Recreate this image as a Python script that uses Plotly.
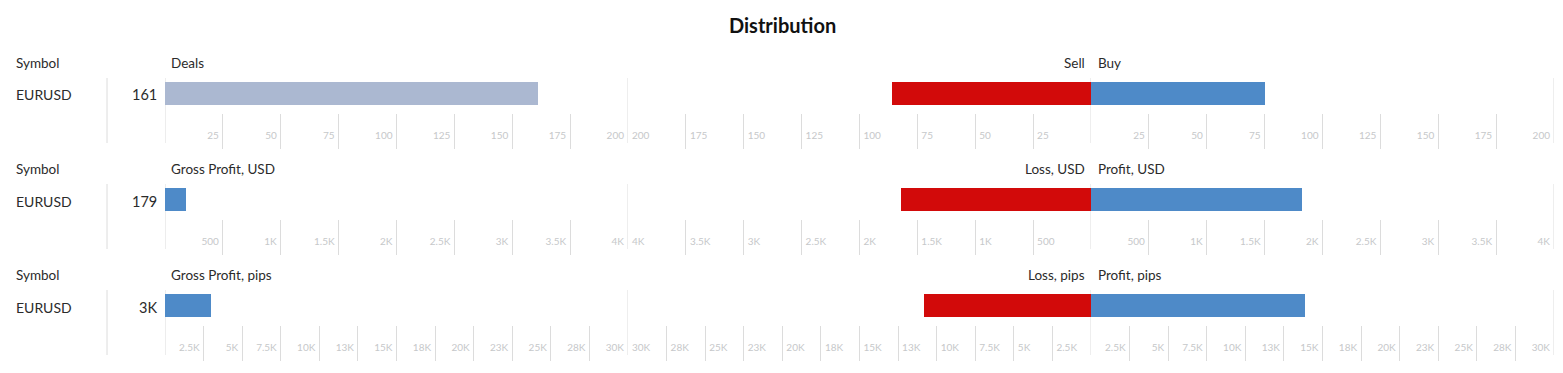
import plotly.graph_objects as go

W, H = 1563, 373

# ---------------- data ----------------
symbols = ["EURUSD"]
metric_titles = ["Deals", "Gross Profit, USD", "Gross Profit, pips"]
neg_titles = ["Sell", "Loss, USD", "Loss, pips"]
pos_titles = ["Buy", "Profit, USD", "Profit, pips"]

deals_total = [161]
deals_sell = [86]
deals_buy = [75]

gross_profit_usd = [179]
loss_usd = [1640]
profit_usd = [1819]

gross_profit_pips = [3000]
loss_pips = [10850]
profit_pips = [13850]

axis_max = [200, 4000, 30000]

ticks_deals = [25, 50, 75, 100, 125, 150, 175, 200]
ticktext_deals = ["25", "50", "75", "100", "125", "150", "175", "200"]
ticks_usd = [500, 1000, 1500, 2000, 2500, 3000, 3500, 4000]
ticktext_usd = ["500", "1K", "1.5K", "2K", "2.5K", "3K", "3.5K", "4K"]
ticks_pips = [2500, 5000, 7500, 10000, 12500, 15000, 17500, 20000, 22500, 25000, 27500, 30000]
ticktext_pips = ["2.5K", "5K", "7.5K", "10K", "13K", "15K", "18K", "20K", "23K", "25K", "28K", "30K"]

# ---------------- style ----------------
FONT = "Lato"
C_TEXT = "#2b2b2b"
C_TICK = "#c6c8ca"
C_GRID = "#dcdcdc"
C_DEALS = "#abb8d1"
C_SELL = "#d20a0a"
C_BUY = "#4e8ac8"

ROW_DY = 106
X_SEP = 107
PANELS = [(165, 628), (628, 1091), (1091, 1554)]


def fx(px):
    return px / W


def fy(py):
    return 1 - py / H


def fmt_k(v):
    if v >= 1000:
        s = f"{v / 1000:.1f}".rstrip("0").rstrip(".")
        return s + "K"
    return str(v)


rows = [
    dict(total=deals_total, neg=deals_sell, pos=deals_buy, total_color=C_DEALS,
         ticks=ticks_deals, ticktext=ticktext_deals),
    dict(total=gross_profit_usd, neg=loss_usd, pos=profit_usd, total_color=C_BUY,
         ticks=ticks_usd, ticktext=ticktext_usd),
    dict(total=gross_profit_pips, neg=loss_pips, pos=profit_pips, total_color=C_BUY,
         ticks=ticks_pips, ticktext=ticktext_pips),
]

fig = go.Figure()
layout = {}
annotations = []
shapes = []


def axname(i):
    return "" if i == 1 else str(i)


for r, row in enumerate(rows):
    dy = r * ROW_DY
    mx = axis_max[r]
    values = [row["total"], row["neg"], row["pos"]]
    colors = [row["total_color"], C_SELL, C_BUY]
    for p in range(3):
        bi = 1 + r * 6 + p
        ti = 1 + r * 6 + 3 + p
        x0, x1 = PANELS[p]
        rng = [mx, 0] if p == 1 else [0, mx]
        # bar subplot
        fig.add_trace(go.Bar(
            x=values[p], y=[0] * len(values[p]), orientation="h", width=1,
            marker=dict(color=colors[p], line=dict(width=0)),
            xaxis="x" + axname(bi), yaxis="y" + axname(bi),
            hoverinfo="skip", showlegend=False))
        layout["xaxis" + axname(bi)] = dict(
            domain=[fx(x0), fx(x1)], range=rng, visible=False, fixedrange=True,
            anchor="y" + axname(bi), automargin=False)
        layout["yaxis" + axname(bi)] = dict(
            domain=[fy(82 + dy + 23), fy(82 + dy)], range=[-0.5, 0.5], visible=False,
            anchor="x" + axname(bi), fixedrange=True, automargin=False)
        # tick subplot
        fig.add_trace(go.Scatter(
            x=[], y=[], xaxis="x" + axname(ti), yaxis="y" + axname(ti),
            hoverinfo="skip", showlegend=False))
        layout["xaxis" + axname(ti)] = dict(
            domain=[fx(x0), fx(x1)], range=rng, fixedrange=True,
            anchor="y" + axname(ti), automargin=False,
            tickmode="array", tickvals=row["ticks"], ticktext=row["ticktext"],
            showgrid=True, gridcolor=C_GRID, gridwidth=1,
            zeroline=False, showline=False, ticks="",
            ticklabelposition="inside right" if p == 1 else "inside left",
            ticklabelshift=-4,
            ticklabeloverflow="allow", ticklabelstandoff=2,
            tickfont=dict(family=FONT, size=10, color=C_TICK))
        layout["yaxis" + axname(ti)] = dict(
            domain=[fy(114 + dy + 35), fy(114 + dy)], range=[0, 1], visible=False,
            anchor="x" + axname(ti), fixedrange=True, automargin=False)

    # separators
    xb = "x" + axname(1 + r * 6)
    xm = "x" + axname(1 + r * 6 + 1)
    xr = "x" + axname(1 + r * 6 + 2)
    seps = [("paper", fx(X_SEP)), (xb, 0), (xb, mx), (xm, 0), (xr, mx)]
    for xref, xv in seps:
        shapes.append(dict(type="line", xref=xref, yref="paper",
                           x0=xv, x1=xv, y0=fy(78 + dy), y1=fy(143 + dy),
                           line=dict(color=C_GRID, width=1), layer="below"))

    # header texts
    yh = fy(63 + dy)
    hfont = dict(size=13.5, color=C_TEXT)
    annotations += [
        dict(text="Symbol", x=fx(14), y=yh, xanchor="left", yanchor="middle", font=hfont),
        dict(text=metric_titles[r], x=fx(169), y=yh, xanchor="left", yanchor="middle", font=hfont),
        dict(text=neg_titles[r], x=fx(1087), y=yh, xanchor="right", yanchor="middle", font=hfont),
        dict(text=pos_titles[r], x=fx(1096), y=yh, xanchor="left", yanchor="middle", font=hfont),
    ]
    yv = fy(95 + dy)
    for s, tv in zip(symbols, row["total"]):
        annotations += [
            dict(text=s, x=fx(14), y=yv, xanchor="left", yanchor="middle",
                 font=dict(size=14, color=C_TEXT)),
            dict(text=fmt_k(tv), x=fx(159), y=yv, xanchor="right", yanchor="middle",
                 font=dict(size=14.5, color=C_TEXT)),
        ]

for a in annotations:
    a.update(xref="paper", yref="paper", showarrow=False)

annotations.append(dict(text="<b>Distribution</b>", x=fx(782.5), y=fy(25), xref="paper",
                        yref="paper", xanchor="center", yanchor="middle", showarrow=False,
                        font=dict(size=20, color="#111111")))

fig.update_layout(
    width=W, height=H, margin=dict(l=0, r=0, t=0, b=0, autoexpand=False),
    paper_bgcolor="white", plot_bgcolor="rgba(0,0,0,0)",
    font=dict(family=FONT, color=C_TEXT),
    showlegend=False, bargap=0,
    annotations=annotations, shapes=shapes,
    **layout)

fig.write_html("out.html", config={"displayModeBar": False})
